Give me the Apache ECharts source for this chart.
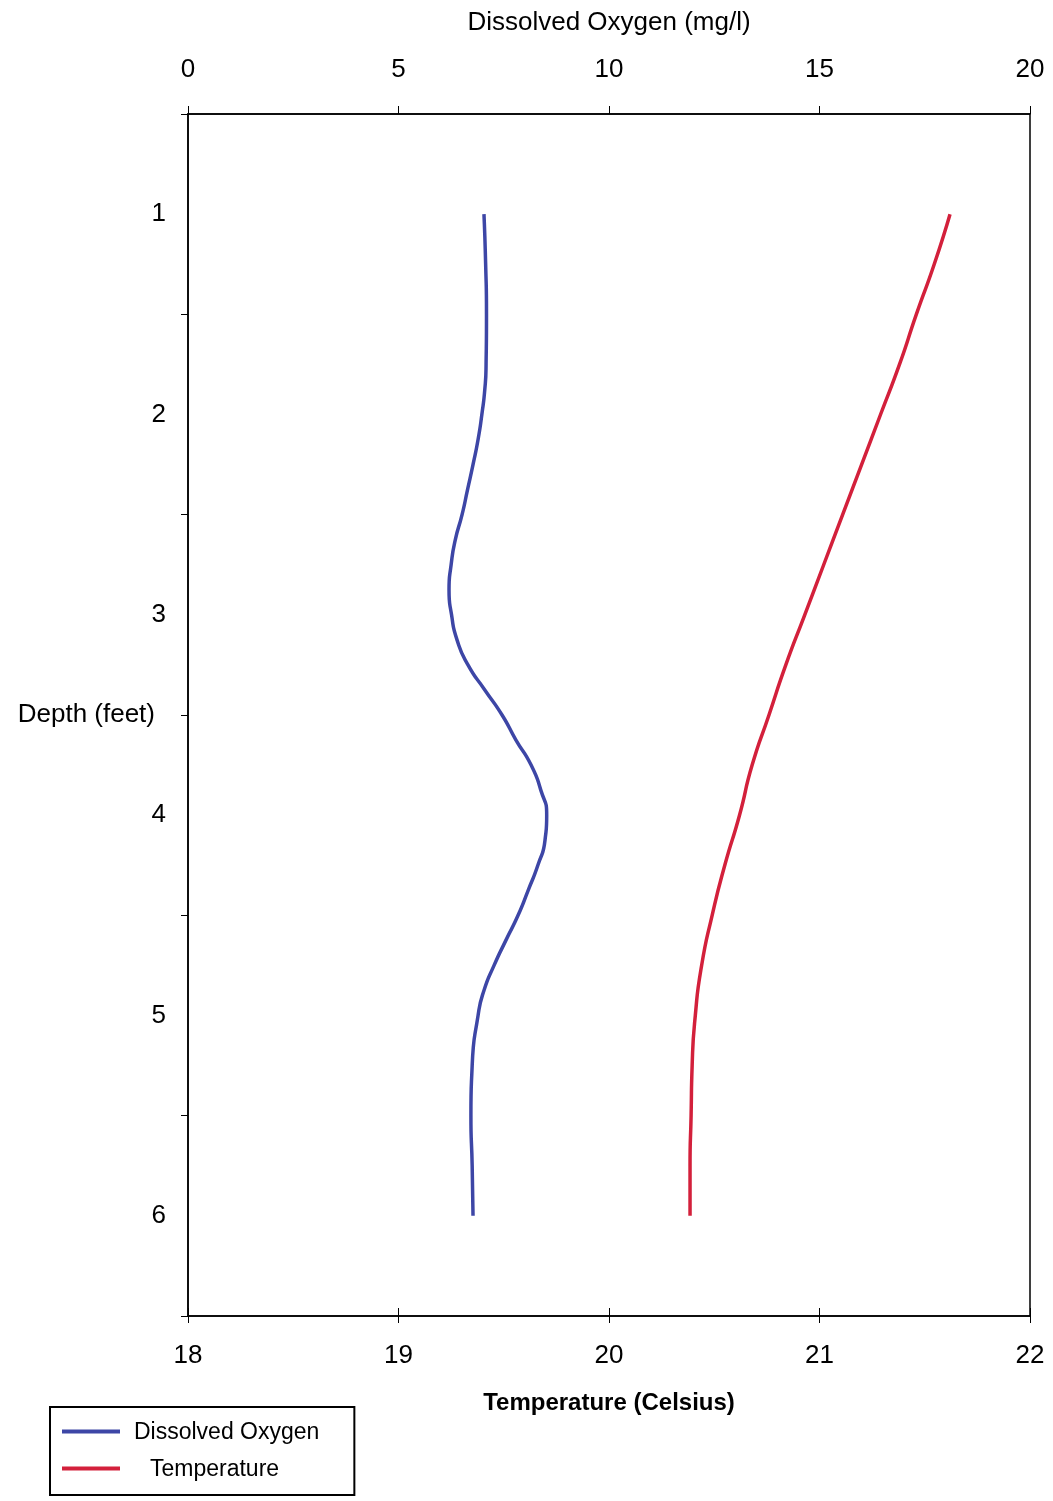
<!DOCTYPE html>
<html>
<head>
<meta charset="utf-8">
<script src="https://cdn.jsdelivr.net/npm/echarts@6/dist/echarts.min.js"></script>
<style>
html,body{margin:0;padding:0;background:#fff;}
#chart{width:1053px;height:1501px;}
</style>
</head>
<body>
<div id="chart"></div>
<script>
// Depth (feet) for each dissolved-oxygen reading
const doDepths = [1.0,1.25,1.5,1.75,1.875,2.0,2.125,2.25,2.375,2.5,2.625,2.75,2.875,3.0,3.125,3.25,3.375,3.5,3.625,3.75,3.875,4.0,4.125,4.25,4.375,4.5,4.625,4.75,4.875,5.0,5.25,5.5,5.75,6.0];
// Dissolved oxygen (mg/l)
const doValues = [7.03,7.07,7.09,7.08,7.05,6.98,6.89,6.77,6.64,6.51,6.35,6.25,6.20,6.26,6.39,6.65,7.05,7.46,7.79,8.15,8.38,8.52,8.48,8.31,8.08,7.84,7.55,7.27,7.03,6.89,6.75,6.72,6.75,6.77];
// Depth (feet) for each temperature reading
const tempDepths = [1.0,1.25,1.5,1.75,2.0,2.25,2.5,2.75,3.0,3.25,3.5,3.75,4.0,4.25,4.5,4.75,5.0,5.25,5.5,5.75,6.0];
// Temperature (Celsius)
const tempValues = [21.62,21.545,21.46,21.38,21.29,21.20,21.11,21.02,20.93,20.84,20.76,20.68,20.62,20.55,20.49,20.44,20.41,20.395,20.39,20.385,20.385];

const FONT = '"Liberation Sans", Arial, Helvetica, sans-serif';
const doData = doDepths.map((d,i)=>[doValues[i], d]);
const tempData = tempDepths.map((d,i)=>[tempValues[i], d]);

const chart = echarts.init(document.getElementById('chart'), null, {renderer:'canvas'});
const axisLineStyle = {color:'#000', width:1.5};
chart.setOption({
  backgroundColor:'#fff',
  animation:false,
  textStyle:{fontFamily:FONT},
  grid:{left:188, right:23, top:114, bottom:185, show:true, borderColor:'#000', borderWidth:1.5, backgroundColor:'transparent'},
  legend:{
    orient:'vertical', left:50, top:1407,
    borderColor:'#000', borderWidth:2, borderRadius:0,
    padding:[11,35,13,12],
    itemWidth:58, itemHeight:14, itemGap:10,
    icon:'path://M0,0L58,0L58,4L0,4Z',
    textStyle:{fontFamily:FONT, fontSize:23, color:'#000', lineHeight:24, padding:[3,0,0,9],
      rich:{t:{fontFamily:FONT, fontSize:23, color:'#000', padding:[0,0,0,16]}}},
    formatter: n => n === 'Temperature' ? '{t|' + n + '}' : n,
    data:['Dissolved Oxygen','Temperature']
  },
  xAxis:[
    {type:'value', position:'bottom', min:18, max:22, interval:1,
     name:'Temperature (Celsius)', nameLocation:'middle', nameGap:75,
     nameTextStyle:{fontFamily:FONT, fontSize:24, fontWeight:'bold', color:'#000'},
     axisLine:{show:true, lineStyle:axisLineStyle},
     axisTick:{show:true, inside:false, length:7, lineStyle:{color:'#000', width:1}},
     axisLabel:{fontFamily:FONT, fontSize:26, color:'#000', margin:27},
     splitLine:{show:false}},
    {type:'value', position:'top', min:0, max:20, interval:5,
     name:'Dissolved Oxygen (mg/l)', nameLocation:'middle', nameGap:78,
     nameTextStyle:{fontFamily:FONT, fontSize:26, color:'#000'},
     axisLine:{show:true, lineStyle:axisLineStyle},
     axisTick:{show:true, inside:false, length:8, lineStyle:{color:'#000', width:1}},
     axisLabel:{fontFamily:FONT, fontSize:26, color:'#000', margin:31},
     splitLine:{show:false}},
    {type:'value', position:'bottom', min:18, max:22, interval:1,
     axisLine:{show:false},
     axisTick:{show:true, inside:true, length:8, lineStyle:{color:'#000', width:1}},
     axisLabel:{show:false}, splitLine:{show:false}}
  ],
  yAxis:[
    {type:'value', position:'left', inverse:true, min:0.5, max:6.5, interval:0.5,
     name:'Depth (feet)', nameLocation:'middle', nameRotate:0, nameGap:33, nameMoveOverlap:false,
     nameTextStyle:{fontFamily:FONT, fontSize:26, color:'#000', align:'right', verticalAlign:'middle'},
     axisLine:{show:true, lineStyle:axisLineStyle},
     axisTick:{show:false},
     axisLabel:{fontFamily:FONT, fontSize:26, color:'#000', margin:22,
       formatter: v => Number.isInteger(v) ? String(v) : ''},
     splitLine:{show:false}},
    {type:'value', position:'left', inverse:true, min:0.5, max:6.5, interval:1,
     axisLine:{show:false},
     axisTick:{show:true, inside:false, length:7, lineStyle:{color:'#000', width:1}},
     axisLabel:{show:false}, splitLine:{show:false}}
  ],
  series:[
    {name:'Dissolved Oxygen', type:'line', xAxisIndex:1, yAxisIndex:0,
     data:doData, smooth:0.6, symbol:'none',
     lineStyle:{color:'#3d46a6', width:3.5}, itemStyle:{color:'#3d46a6'}},
    {name:'Temperature', type:'line', xAxisIndex:0, yAxisIndex:0,
     data:tempData, smooth:0.6, symbol:'none',
     lineStyle:{color:'#d3203b', width:3.5}, itemStyle:{color:'#d3203b'}}
  ]
});
</script>
</body>
</html>
